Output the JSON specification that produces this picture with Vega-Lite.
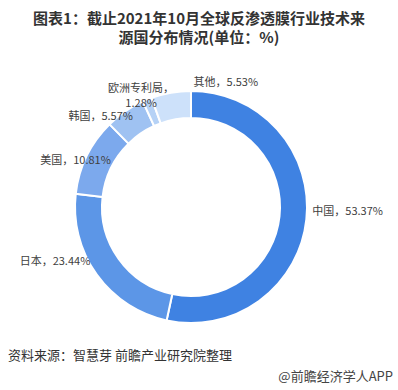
{
  "$schema": "https://vega.github.io/schema/vega-lite/v6.json",
  "width": 382,
  "height": 314,
  "autosize": {"type": "none"},
  "padding": {"left": 0, "right": 16, "top": 50, "bottom": 26},
  "background": "white",
  "title": {
    "text": ["图表1：截止2021年10月全球反渗透膜行业技术来", "源国分布情况(单位：%)"],
    "fontSize": 15,
    "fontWeight": "bold",
    "font": "Noto Sans CJK SC",
    "color": "#333333",
    "anchor": "middle",
    "dx": 8,
    "lineHeight": 19,
    "offset": 4
  },
  "config": {"view": {"stroke": null}},
  "datasets": {
    "share": [
      {"name": "中国", "value": 53.37, "i": 1, "label": "中国，53.37%"},
      {"name": "日本", "value": 23.44, "i": 2, "label": "日本，23.44%"},
      {"name": "美国", "value": 10.81, "i": 3, "label": "美国，10.81%"},
      {"name": "韩国", "value": 5.57, "i": 4, "label": "韩国，5.57%"},
      {"name": "欧洲专利局", "value": 1.28, "i": 5, "label": "欧洲专利局，\n1.28%"},
      {"name": "其他", "value": 5.53, "i": 6, "label": "其他，5.53%"}
    ]
  },
  "layer": [
    {
      "data": {"name": "share"},
      "mark": {"type": "arc", "outerRadius": 116, "innerRadius": 89, "stroke": "white", "strokeWidth": 2},
      "encoding": {
        "theta": {"field": "value", "type": "quantitative", "stack": true},
        "order": {"field": "i", "type": "quantitative"},
        "color": {
          "field": "name",
          "type": "nominal",
          "scale": {
            "domain": ["中国", "日本", "美国", "韩国", "欧洲专利局", "其他"],
            "range": ["#3f82e2", "#5c96e7", "#7ca9ed", "#9fc2f2", "#b6d2f6", "#cde1fa"]
          },
          "legend": null
        }
      }
    },
    {
      "data": {"name": "share"},
      "mark": {"type": "text", "radius": 124, "align": "left", "baseline": "middle", "dx": -2, "dy": -8, "fontSize": 11, "font": "Noto Sans CJK SC", "color": "#404040"},
      "encoding": {
        "theta": {"field": "value", "type": "quantitative", "stack": true},
        "order": {"field": "i", "type": "quantitative"},
        "text": {"condition": {"test": "datum.name === '中国'", "field": "label"}, "value": ""}
      }
    },
    {
      "data": {"name": "share"},
      "mark": {"type": "text", "radius": 124, "align": "right", "baseline": "middle", "dx": 0, "dy": -17, "fontSize": 11, "font": "Noto Sans CJK SC", "color": "#404040"},
      "encoding": {
        "theta": {"field": "value", "type": "quantitative", "stack": true},
        "order": {"field": "i", "type": "quantitative"},
        "text": {"condition": {"test": "datum.name === '日本'", "field": "label"}, "value": ""}
      }
    },
    {
      "data": {"name": "share"},
      "mark": {"type": "text", "radius": 124, "align": "center", "baseline": "middle", "dx": -4, "dy": 8, "fontSize": 11, "font": "Noto Sans CJK SC", "color": "#404040"},
      "encoding": {
        "theta": {"field": "value", "type": "quantitative", "stack": true},
        "order": {"field": "i", "type": "quantitative"},
        "text": {"condition": {"test": "datum.name === '美国'", "field": "label"}, "value": ""}
      }
    },
    {
      "data": {"name": "share"},
      "mark": {"type": "text", "radius": 124, "align": "center", "baseline": "middle", "dx": -20, "dy": 12, "fontSize": 11, "font": "Noto Sans CJK SC", "color": "#404040"},
      "encoding": {
        "theta": {"field": "value", "type": "quantitative", "stack": true},
        "order": {"field": "i", "type": "quantitative"},
        "text": {"condition": {"test": "datum.name === '韩国'", "field": "label"}, "value": ""}
      }
    },
    {
      "data": {"name": "share"},
      "mark": {"type": "text", "radius": 124, "align": "center", "baseline": "middle", "dx": -3, "dy": -3, "lineBreak": "\n", "lineHeight": 15, "fontSize": 11, "font": "Noto Sans CJK SC", "color": "#404040"},
      "encoding": {
        "theta": {"field": "value", "type": "quantitative", "stack": true},
        "order": {"field": "i", "type": "quantitative"},
        "text": {"condition": {"test": "datum.name === '欧洲专利局'", "field": "label"}, "value": ""}
      }
    },
    {
      "data": {"name": "share"},
      "mark": {"type": "text", "radius": 124, "align": "left", "baseline": "middle", "dx": 24, "dy": -2, "fontSize": 11, "font": "Noto Sans CJK SC", "color": "#404040"},
      "encoding": {
        "theta": {"field": "value", "type": "quantitative", "stack": true},
        "order": {"field": "i", "type": "quantitative"},
        "text": {"condition": {"test": "datum.name === '其他'", "field": "label"}, "value": ""}
      }
    },
    {
      "data": {"values": [{"note": "资料来源：智慧芽 前瞻产业研究院整理"}]},
      "mark": {"type": "text", "x": 8, "y": {"expr": "height - 8"}, "align": "left", "baseline": "middle", "fontSize": 13, "font": "Noto Sans CJK SC", "color": "#333333"},
      "encoding": {"text": {"field": "note"}}
    },
    {
      "data": {"values": [{"note": "@前瞻经济学人APP"}]},
      "mark": {"type": "text", "x": {"expr": "width + 11"}, "y": {"expr": "height + 13"}, "align": "right", "baseline": "middle", "fontSize": 13, "font": "Noto Sans CJK SC", "color": "#444444"},
      "encoding": {"text": {"field": "note"}}
    }
  ]
}
